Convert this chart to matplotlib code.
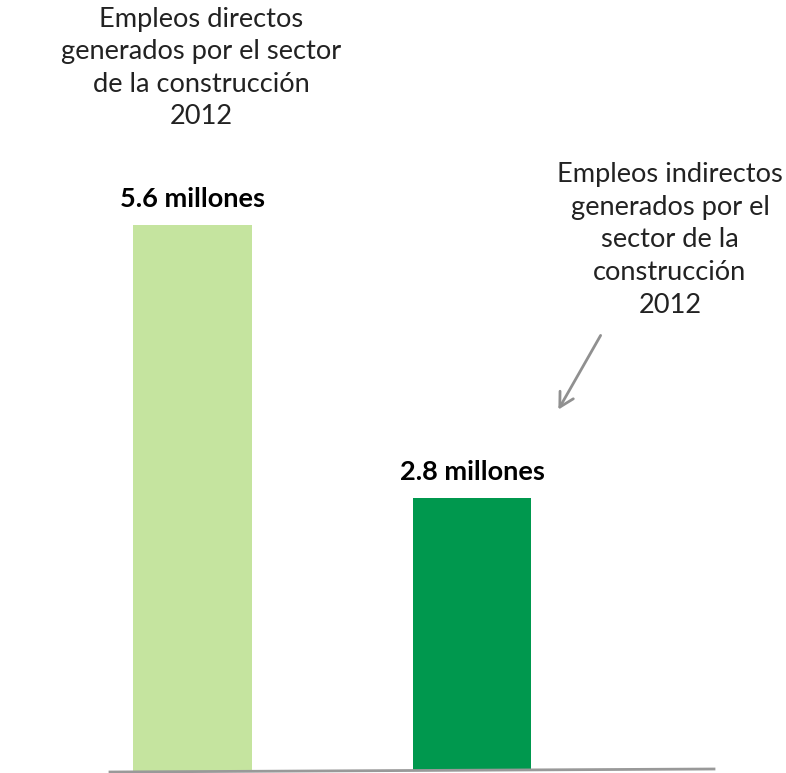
import matplotlib
matplotlib.use("Agg")
import matplotlib.pyplot as plt

categories = ["Directos", "Indirectos"]
values = [5.6, 2.8]
value_labels = ["5.6 millones", "2.8 millones"]
colors = ["#c5e49f", "#00984e"]
note_direct = "Empleos directos\ngenerados por el sector\nde la construcción\n2012"
note_indirect = "Empleos indirectos\ngenerados por el\nsector de la\nconstrucción\n2012"

W, H = 786, 773
fig = plt.figure(figsize=(W / 100, H / 100), dpi=100)
ax = fig.add_axes([0, 0, 1, 1])
ax.set_axis_off()

FONT = "Lato"
xs = list(range(len(categories)))
ax.bar(xs, values, width=0.425, color=colors)

px_per_cat = 279.5
x0 = 192.5
ax.set_xlim(-x0 / px_per_cat, (W - x0) / px_per_cat)
px_per_unit = 97.5
base_from_bottom = 2.0
ax.set_ylim(-base_from_bottom / px_per_unit, (H - base_from_bottom) / px_per_unit)

for x, v, lab in zip(xs, values, value_labels):
    ax.annotate(lab, (x, v), xytext=(0, 10), textcoords="offset points",
                ha="center", va="bottom", fontsize=19.5, fontweight="bold",
                family=FONT, color="black")

def fp(x, y):
    return (x / W, 1 - y / H)

# baseline
fig.add_artist(plt.Line2D([110 / W, 714 / W], [1 - 772 / H, 1 - 769 / H],
                          color="#999999", lw=2.0, transform=fig.transFigure))

fig.text(*fp(201, 68), note_direct, ha="center", va="center", fontsize=19.6,
         family=FONT, color="#222222", linespacing=1.38)
fig.text(*fp(670, 240), note_indirect, ha="center", va="center", fontsize=19.6,
         family=FONT, color="#222222", linespacing=1.38)

ax.annotate("", xy=fp(557, 412), xycoords="figure fraction",
            xytext=fp(602, 333), textcoords="figure fraction",
            arrowprops=dict(arrowstyle="->,head_length=1.0,head_width=0.55",
                            color="#909090", lw=2.0))

fig.savefig("out.png", dpi=100)
